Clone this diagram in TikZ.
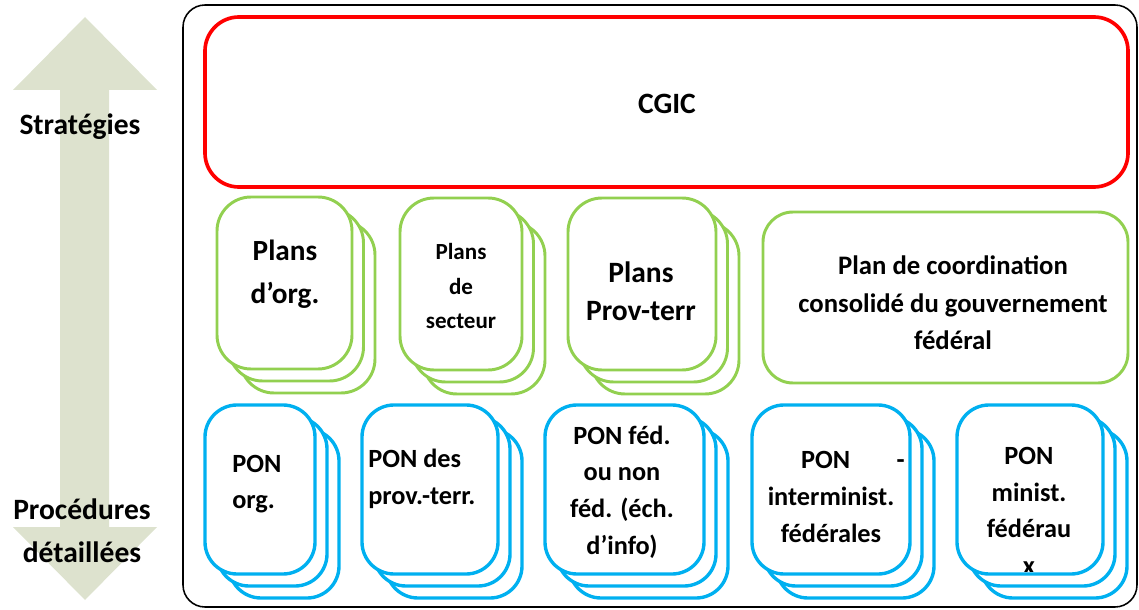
\documentclass[tikz,border=0pt]{standalone}
\usepackage{fontspec}
\setmainfont{Carlito}
\definecolor{redline}{RGB}{255,0,0}
\definecolor{greenline}{RGB}{146,208,80}
\definecolor{blueline}{RGB}{0,176,240}
\definecolor{arrowfill}{RGB}{221,226,206}
\begin{document}
\begin{tikzpicture}[x=0.025cm, y=-0.025cm, line join=round,
	greenbox/.style={draw=greenline, line width=2.1pt, fill=white, rounded corners=0.85cm},
	bluebox/.style={draw=blueline, line width=2.4pt, fill=white, rounded corners=0.8cm},
	bigtxt/.style={font=\fontsize{21}{30.5}\selectfont\bfseries, align=center, inner sep=0pt},
	pontxt/.style={font=\fontsize{18.7}{26}\selectfont\bfseries, align=center, inner sep=0pt}]
	\useasboundingbox (0,0) rectangle (1139,610);
	% double arrow
	\fill[arrowfill](85,17)--(157,90)--(109,90)--(109,527)--(157,527)--(85,600)--(13,527)--(60,527)--(60,90)--(13,90)--cycle;
	\node[bigtxt] (strat) at (80,127) {Stratégies};
	\node[bigtxt] (proc) at (82,531) {Procédures\\détaillées};
	% frames
	\draw[line width=1.1pt, rounded corners=0.55cm](183,5) rectangle (1137,607);
	\draw[redline, line width=2.6pt, rounded corners=0.85cm](205,17) rectangle (1128,187);
	\node[bigtxt] (cgic) at (667,104) {CGIC};
	% plans
	\foreach \x/\y/\w in {217/197/135, 400/198/122, 568/198/148}
		\foreach \d in {2,1,0}
			\draw[greenbox](\x+\d*11.5,\y+\d*12) rectangle ++(\w,172);
	\draw[greenbox, rounded corners=0.75cm](763,212) rectangle (1128,383);
	\node[bigtxt, font=\fontsize{20.8}{30.5}\selectfont\bfseries] (orgplan) at (285,274) {Plans\\d’org.};
	\node[bigtxt, font=\fontsize{16.4}{24.2}\selectfont\bfseries] (sectplan) at (461,286) {Plans\\de\\secteur};
	\node[bigtxt, font=\fontsize{21}{27}\selectfont\bfseries] (provplan) at (641,291) {Plans\\Prov-terr};
	\node[bigtxt, font=\fontsize{19}{26.7}\selectfont\bfseries] (coordplan) at (953,303) {Plan de coordination\\consolidé du gouvernement\\fédéral};
	% PON
	\foreach \x/\w in {205/110, 362/136, 545/159, 752/158, 957/146}
		\foreach \d in {2,1,0}
			\draw[bluebox](\x+\d*12,405+\d*12) rectangle ++(\w,169);
	\node[pontxt, align=left, anchor=west] (ponorg) at (232,484) {PON\\org.};
	\node[pontxt, align=left, anchor=west] (ponprov) at (368,479) {PON des\\prov.-terr.};
	\node[pontxt] (ponfed) at (622,492) {PON féd.\\ou non\\féd. (éch.\\d’info)};
	\node[pontxt] (ponint) at (831,497) {\hspace*{31pt}PON\hspace{33pt}-\\interminist.\\fédérales};
	\begin{scope}
		\clip[rounded corners=0.8cm](957,405) rectangle (1103,571);
		\node[pontxt] (ponmin) at (1029,511) {PON\\minist.\\fédérau\\x};
	\end{scope}
\end{tikzpicture}
\end{document}
